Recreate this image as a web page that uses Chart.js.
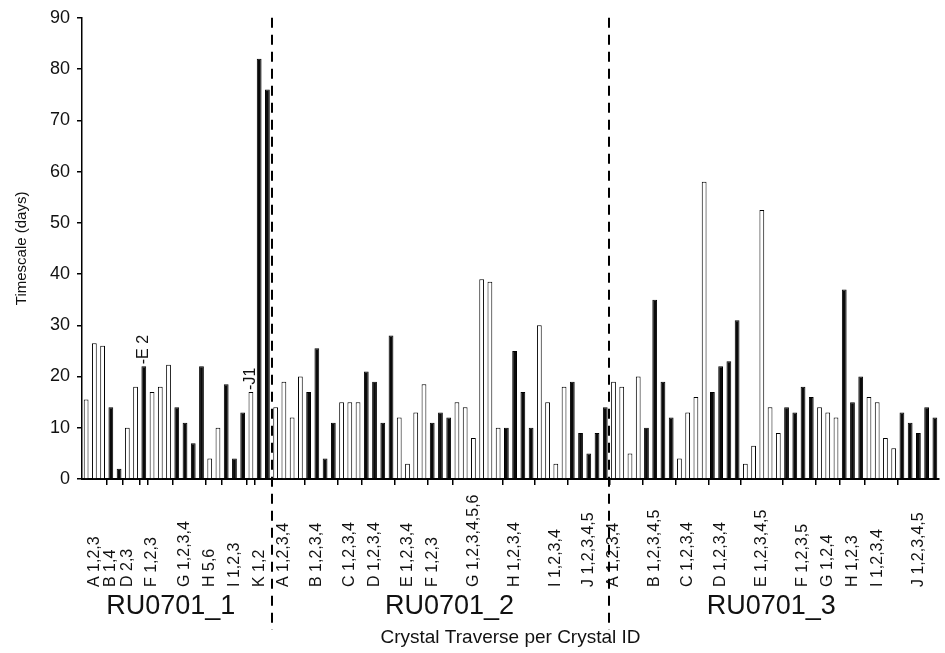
<!DOCTYPE html>
<html>
<head>
<meta charset="utf-8">
<script src="https://cdn.jsdelivr.net/npm/chart.js@4.4.0/dist/chart.umd.min.js"></script>
<style>
  html, body { margin: 0; padding: 0; background: #fff; }
  #wrap { width: 945px; height: 653px; }
</style>
</head>
<body>
<div id="wrap"><canvas id="timescaleChart"></canvas></div>
<script>
// Timescales (days) per crystal traverse, three samples
const sampleNames = ['RU0701_1', 'RU0701_2', 'RU0701_3'];

// RU0701_1
const ru1Crystals = 'AAABBDDEFFFGGGGHHIIIJKK'.split('');
const ru1Values = [15.5, 26.5, 26, 14, 2, 10, 18, 22, 17, 18, 22.3, 14, 11, 7, 22, 4, 10, 18.5, 4, 13, 17, 82, 76];
const ru1Labels = ['', 'A 1,2,3', '', 'B 1,4', '', 'D 2,3', '', '', 'F 1,2,3', '', '', '',
  'G 1,2,3,4', '', '', 'H 5,6', '', '', 'I 1,2,3', '', '', 'K 1,2', ''];
const ru1Notes = [[7, '-E 2'], [20, '-J1']];

// RU0701_2
const ru2Crystals = 'AAAABBBBCCCDDDDEEEEFFFGGGGGGHHHHIIIIJJJJJ'.split('');
const ru2Values = [14, 19, 12, 20, 17, 25.5, 4, 11, 15, 15, 15, 21, 19, 11, 28, 12, 3, 13, 18.5,
  11, 13, 12, 15, 14, 8, 39, 38.5, 10, 10, 25, 17, 10, 30, 15, 3, 18, 19, 9, 5, 9, 14];
const ru2Labels = ['', 'A 1,2,3,4', '', '', '', 'B 1,2,3,4', '', '', '', 'C 1,2,3,4', '', '',
  'D 1,2,3,4', '', '', '', 'E 1,2,3,4', '', '', 'F 1,2,3', '', '', '', '', 'G 1,2,3,4,5,6', '', '',
  '', '', 'H 1,2,3,4', '', '', '', '', 'I 1,2,3,4', '', '', '', 'J 1,2,3,4,5', '', ''];

// RU0701_3
const ru3Crystals = 'AAAABBBBCCCCDDDDEEEEEFFFFGGGHHHIIIIJJJJJ'.split('');
const ru3Values = [19, 18, 5, 20, 10, 35, 19, 12, 4, 13, 16, 58, 17, 22, 23, 31, 3, 6.5, 52.5, 14, 9,
  14, 13, 18, 16, 14, 13, 12, 37, 15, 20, 16, 15, 8, 6, 13, 11, 9, 14, 12];
const ru3Labels = ['A 1,2,3,4', '', '', '', '', 'B 1,2,3,4,5', '', '', '', 'C 1,2,3,4', '', '', '',
  'D 1,2,3,4', '', '', '', '', 'E 1,2,3,4,5', '', '', '', '', 'F 1,2,3,5', '', '', 'G 1,2,4', '', '',
  'H 1,2,3', '', '', 'I 1,2,3,4', '', '', '', '', 'J 1,2,3,4,5', '', ''];

const yTicks = [0, 10, 20, 30, 40, 50, 60, 70, 80, 90];

// flatten the samples into one category axis
const crystals = [], values = [], labels = [], fills = [], notes = [];
const sampleStarts = [], boundaries = new Set();
[[ru1Crystals, ru1Values, ru1Labels, ru1Notes],
 [ru2Crystals, ru2Values, ru2Labels, []],
 [ru3Crystals, ru3Values, ru3Labels, []]].forEach(([cr, vals, labs, nts]) => {
  const start = values.length;
  sampleStarts.push(start);
  let group = -1;
  cr.forEach((c, i) => {
    if (i === 0 || c !== cr[i - 1]) {
      group++;
      if (start + i > 0) boundaries.add(start + i);
    }
    fills.push(group % 2 ? '#0a0a0a' : '#ffffff');
    crystals.push(c);
    values.push(vals[i]);
    labels.push(labs[i]);
  });
  nts.forEach(([i, t]) => notes.push([start + i, t]));
});

const FONT = '"Liberation Sans", Arial, Helvetica, sans-serif';
const titleNudge = [-6, 9, -3];

const drawExtras = {
  id: 'drawExtras',
  afterDraw(chart) {
    const { ctx, chartArea, scales: { x, y } } = chart;
    const half = (x.getPixelForValue(1) - x.getPixelForValue(0)) / 2;
    ctx.save();
    ctx.fillStyle = '#111';

    // traverse labels, reading upwards from a shared baseline
    ctx.font = '16px ' + FONT;
    ctx.textAlign = 'left';
    ctx.textBaseline = 'middle';
    labels.forEach((t, i) => {
      if (!t) return;
      ctx.save();
      ctx.translate(x.getPixelForValue(i), 587);
      ctx.rotate(-Math.PI / 2);
      ctx.fillText(t, 0, 0);
      ctx.restore();
    });

    // single traverse tags sitting on top of their bars
    notes.forEach(([i, t]) => {
      ctx.save();
      ctx.translate(x.getPixelForValue(i), y.getPixelForValue(values[i]) - 2);
      ctx.rotate(-Math.PI / 2);
      ctx.fillText(t, 0, 0);
      ctx.restore();
    });

    // sample names under each block
    ctx.font = '27px ' + FONT;
    ctx.textAlign = 'center';
    sampleNames.forEach((name, k) => {
      const first = sampleStarts[k];
      const last = (k + 1 < sampleStarts.length ? sampleStarts[k + 1] : values.length) - 1;
      const cx = (x.getPixelForValue(first) + x.getPixelForValue(last)) / 2 + titleNudge[k];
      ctx.fillText(name, cx, 607);
    });

    // dashed separators between samples
    ctx.strokeStyle = '#000';
    ctx.lineWidth = 2;
    ctx.setLineDash([10, 7]);
    sampleStarts.slice(1).forEach(s => {
      const px = Math.round(x.getPixelForValue(s) - half);
      ctx.beginPath();
      ctx.moveTo(px, chartArea.top);
      ctx.lineTo(px, 630);
      ctx.stroke();
    });
    ctx.restore();
  }
};

new Chart(document.getElementById('timescaleChart'), {
  type: 'bar',
  data: {
    labels: labels,
    datasets: [{
      data: values,
      backgroundColor: fills,
      borderColor: '#000',
      borderWidth: 1,
      barPercentage: 0.58,
      categoryPercentage: 1
    }]
  },
  options: {
    responsive: true,
    maintainAspectRatio: false,
    animation: false,
    devicePixelRatio: 1,
    layout: { padding: { top: 17, right: 6, left: 0, bottom: 0 } },
    plugins: { legend: { display: false }, tooltip: { enabled: false } },
    scales: {
      x: {
        offset: true,
        afterFit: s => { s.height = 174; },
        ticks: { display: false, autoSkip: false },
        grid: {
          offset: true,
          drawOnChartArea: false,
          tickLength: 6,
          lineWidth: 1.5,
          color: c => boundaries.has(c.index) ? '#000' : 'rgba(0,0,0,0)'
        },
        border: { display: true, color: '#000', width: 2 },
        title: {
          display: true,
          text: 'Crystal Traverse per Crystal ID',
          color: '#111',
          font: { family: FONT, size: 19 },
          padding: { top: 0, bottom: 4 }
        }
      },
      y: {
        min: 0,
        max: 90,
        afterFit: s => { s.width = 82; },
        afterBuildTicks: s => { s.ticks = yTicks.map(v => ({ value: v })); },
        ticks: { color: '#111', font: { family: FONT, size: 18 }, padding: 7 },
        grid: { drawOnChartArea: false, tickLength: 5, color: '#000', lineWidth: 1.5 },
        border: { display: true, color: '#000', width: 1.5 },
        title: {
          display: true,
          text: 'Timescale (days)',
          color: '#111',
          font: { family: FONT, size: 15 },
          padding: { top: 13, bottom: 0 }
        }
      }
    }
  },
  plugins: [drawExtras]
});
</script>
</body>
</html>
